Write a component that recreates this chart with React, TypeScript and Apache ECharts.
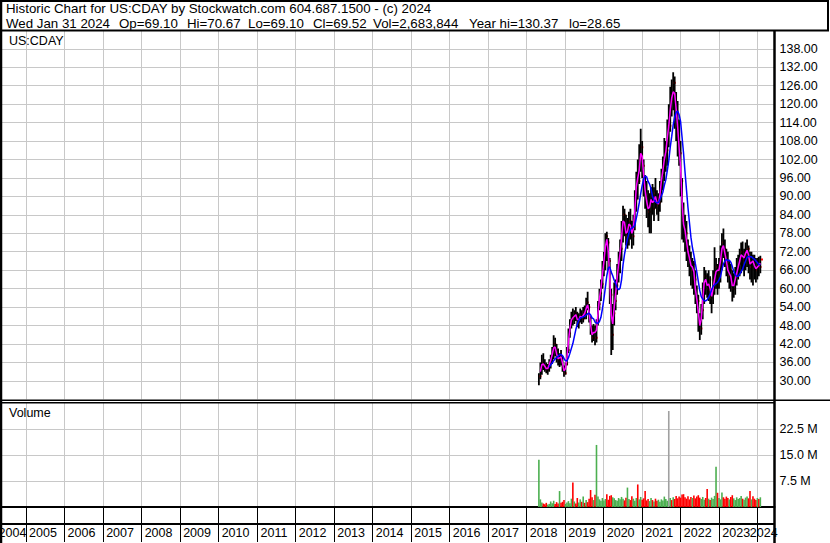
import React, { useEffect, useRef } from 'react';
import * as echarts from 'echarts';

// ---------- data ----------
const TITLE = 'Historic Chart for US:CDAY by Stockwatch.com 604.687.1500 - (c) 2024';
const QUOTE_FIELDS = ['Wed Jan 31 2024', 'Op=69.10', 'Hi=70.67', 'Lo=69.10', 'Cl=69.52', 'Vol=2,683,844', 'Year hi=130.37', 'lo=28.65'];
const SYMBOL = 'US:CDAY';
const VOLUME_LABEL = 'Volume';

const START_DATE = '2018-04-27';
const STEP_DAYS = 14; // one bar every two weeks

const lows = [
  28.6, 30.5, 32, 33.5, 33, 32.5, 32, 33, 34, 35.5, 37, 38, 36, 35, 34.5, 35, 33, 31.3, 32, 35,
  39, 44, 47, 48, 48.5, 49.5, 47.5, 47, 49, 48.5, 49, 50, 50, 53, 49, 45, 42.5, 43, 41.6, 42.5,
  48, 53, 56, 60, 64, 66, 69, 66, 55, 38.4, 40, 48, 53, 58, 62, 65, 69, 75, 77, 74,
  73, 74, 76, 73, 74, 79, 85, 89, 94, 98, 96, 90, 86, 83, 80, 78, 78, 84, 82, 86,
  84, 82, 85, 88, 92, 95, 98, 100, 106, 111, 116, 118, 112, 108, 103, 100, 90, 76, 75, 72,
  69, 67, 64, 61, 60, 58, 55, 52, 46, 43.3, 45, 50, 55, 58, 57, 56, 55, 52, 55, 58,
  60, 58, 60, 62, 66, 70, 67, 64, 62, 60, 59, 55.8, 57, 58, 61, 63, 64, 65, 66, 64,
  66, 67, 65, 63, 62, 61, 63, 62, 63, 64, 65,
];
const highs = [
  32.5, 36, 38.5, 39, 37, 36, 35.5, 37, 38.5, 41, 44.8, 44, 42, 40.5, 39, 40, 38, 35, 36, 41,
  47, 50, 52.5, 53.5, 53, 54, 52.5, 52, 53.5, 53, 54, 54.5, 57, 59, 55, 51, 48, 48.5, 48, 50,
  56, 60, 63, 69, 72, 78, 78.5, 76.5, 70, 60, 55, 62, 63, 68, 72, 76, 82, 87, 86, 84,
  83, 85, 86, 82, 84, 92, 98, 102, 107, 112, 108, 102, 97, 95, 92, 91, 93, 94, 93, 96,
  92, 91, 95, 99, 103, 109, 108, 115, 120, 125.7, 128, 130.4, 129, 124, 121, 115, 108, 96, 88, 84,
  82, 76, 74, 72, 70, 69, 66, 61, 58, 52, 55, 62, 67, 66, 65, 66, 64, 60, 66, 73.5,
  70, 68, 70, 74, 78, 79.6, 76, 73, 72, 69, 68, 66, 65, 67, 70, 71, 73, 75, 75.3, 73,
  75, 76, 74, 72, 72, 71, 71, 70, 70, 70.4, 70.7,
];
const closes = [
  31.5, 34.5, 36, 35, 34.5, 33.5, 34.5, 36, 37.5, 39.5, 42, 40, 37.5, 37, 38, 37.5, 34, 32.5, 35.5, 40,
  45.5, 48.5, 51, 50, 52, 51, 49, 50.5, 51.5, 50, 52.5, 51.5, 55.5, 54, 50.5, 46, 44, 47.5, 44, 49,
  55, 58.5, 61.5, 67.5, 70, 77, 75, 69, 58, 45, 52, 56, 61, 66, 70, 73, 80, 84, 79, 77,
  80, 82, 79, 77, 82, 89, 97, 95, 102, 106, 100, 94, 90, 87, 85, 88, 90, 86, 91, 89,
  87, 88, 93, 97, 100, 104, 105, 113, 113, 123, 121, 127, 120, 117, 108, 104, 95, 82, 80, 78,
  73, 71, 69, 66, 68, 63, 57, 56, 49, 47, 53, 60, 64, 62, 60, 63, 57, 58, 62, 64,
  67, 65, 67, 71, 75, 73, 70, 68, 64, 66, 62, 60, 62, 64, 66, 68, 70, 72, 69, 71,
  72, 73, 69, 67, 70, 68, 67, 66, 68, 67, 69.5,
];
// volume in millions of shares
const volumes = [
  13.6, 2.2, 1.3, 1.0, 0.8, 1.2, 0.7, 0.9, 1.6, 1.1, 1.8, 0.9, 1.4, 1.0, 4.6, 1.2, 1.5, 2.0, 0.9, 1.3,
  1.7, 1.1, 2.4, 7.1, 1.6, 1.0, 2.6, 1.3, 2.2, 1.5, 3.0, 1.2, 2.0, 1.4, 2.4, 4.9, 2.8, 2.0, 3.5, 17.9,
  3.0, 2.2, 1.8, 2.6, 1.9, 2.3, 3.7, 2.1, 3.2, 3.4, 2.8, 2.5, 2.0, 1.8, 2.6, 2.2, 2.9, 2.4, 1.9, 2.7,
  5.6, 2.3, 2.0, 3.1, 2.4, 1.8, 2.6, 6.5, 2.2, 2.9, 2.1, 2.5, 4.6, 1.9, 2.3, 1.7, 2.6, 2.0, 1.6, 2.4,
  1.8, 2.1, 1.5, 2.2, 1.9, 3.0, 2.3, 1.8, 27.7, 2.6, 2.0, 2.8, 2.3, 3.2, 2.5, 3.0, 2.7, 3.6, 3.7, 2.8,
  2.4, 3.1, 2.2, 2.9, 2.6, 3.3, 2.5, 3.0, 3.4, 2.7, 2.3, 2.9, 2.1, 2.6, 5.2, 2.4, 2.0, 2.7, 2.3, 3.2,
  11.6, 4.1, 2.6, 2.2, 4.2, 2.8, 2.4, 3.0, 2.6, 2.2, 2.9, 3.4, 2.5, 2.0, 2.8, 2.3, 2.6, 3.2, 2.4, 2.1,
  2.7, 3.0, 2.5, 4.6, 2.2, 3.1, 2.4, 2.0, 2.6, 2.3, 2.8,
];

const SHORT_MA = 2; // periods (about ten trading days)
const LONG_MA = 8; // periods

const X_MIN = 2004;
const X_MAX = 2024.436;
const PRICE_MIN = 24;
const PRICE_MAX = 144;
const PRICE_STEP = 6;
const VOL_MIN = 0;
const VOL_MAX = 30;
const VOL_STEP = 7.5;

// ---------- helpers ----------
function decimalYear(date: Date): number {
  const y = date.getUTCFullYear();
  const a = Date.UTC(y, 0, 1);
  const b = Date.UTC(y + 1, 0, 1);
  return y + (date.getTime() - a) / (b - a);
}

function periodYear(i: number): number {
  const d = new Date(START_DATE + 'T00:00:00Z');
  d.setUTCDate(d.getUTCDate() + i * STEP_DAYS);
  return decimalYear(d);
}

function movingAverage(values: number[], n: number): (number | null)[] {
  return values.map((_, i) => {
    if (i < n - 1) return null;
    let s = 0;
    for (let k = i - n + 1; k <= i; k++) s += values[k];
    return s / n;
  });
}

const FONT = '"Liberation Sans", Arial, Helvetica, sans-serif';
const FS = 12.5;
const HEADER_FS = 13.3;
const GRID_GREY = '#c8c8c8';

function buildOption() {
  const xs = closes.map((_, i) => periodYear(i));
  const bars = closes.map((c, i) => [xs[i], lows[i], highs[i], c]);
  const maShort = movingAverage(closes, SHORT_MA);
  const maLong = movingAverage(closes, LONG_MA);
  const volData = volumes.map((v, i) => {
    const prev = i === 0 ? -Infinity : closes[i - 1];
    const color = closes[i] > prev ? '#4caf50' : closes[i] < prev ? '#ff0000' : '#a0a0a0';
    return { value: [xs[i], v], itemStyle: { color } };
  });

  const gridLeft = -12.5;
  const gridWidth = 787;

  const lineEl = (x1: number, y1: number, x2: number, y2: number, w: number) => ({
    type: 'line',
    z: 100,
    silent: true,
    shape: { x1, y1, x2, y2 },
    style: { stroke: '#000', lineWidth: w },
  });
  const textEl = (x: number, y: number, text: string, size: number = FS) => ({
    type: 'text',
    z: 100,
    silent: true,
    x,
    y,
    style: { text, fill: '#000', fontSize: size, fontFamily: FONT, verticalAlign: 'middle', align: 'left' },
  });

  const fieldX = [6, 119, 187, 248, 313, 373, 469, 569];

  const yearLabel = (v: number) => {
    if (Math.abs(v - Math.round(v)) > 1e-6) return '';
    const y = Math.round(v);
    if (y === 2004) return `{first|${y}}`;
    if (y === 2024) return `{last|${y}}`;
    return `{yr|${y}}`;
  };
  const richBase = { fontSize: FS, fontFamily: FONT, color: '#000' };

  return {
    animation: false,
    backgroundColor: '#ffffff',
    grid: [
      { left: gridLeft, width: gridWidth, top: 30.4, height: 368.9, outerBoundsMode: 'none', containLabel: false },
      { left: gridLeft, width: gridWidth, top: 403, height: 104, outerBoundsMode: 'none', containLabel: false },
    ],
    xAxis: [
      {
        type: 'value',
        gridIndex: 0,
        min: X_MIN,
        max: X_MAX,
        interval: 1,
        axisLine: { show: false },
        axisTick: { show: false },
        axisLabel: { show: false },
        splitLine: { show: true, lineStyle: { color: GRID_GREY, width: 1 } },
      },
      {
        type: 'value',
        gridIndex: 1,
        min: X_MIN,
        max: X_MAX,
        interval: 1,
        offset: 2,
        axisLine: { show: true, lineStyle: { color: '#000', width: 2 } },
        axisTick: { show: true, inside: false, length: 35, lineStyle: { color: '#000', width: 1 } },
        axisLabel: {
          show: true,
          margin: 17,
          align: 'center',
          showMinLabel: true,
          showMaxLabel: false,
          formatter: yearLabel,
          rich: {
            yr: { ...richBase, padding: [0, 0, 0, 34] },
            first: { ...richBase, padding: [0, 0, 0, 50] },
            last: { ...richBase, padding: [0, 0, 0, 12] },
          },
        },
        splitLine: { show: true, lineStyle: { color: GRID_GREY, width: 1 } },
      },
    ],
    yAxis: [
      {
        type: 'value',
        gridIndex: 0,
        position: 'right',
        min: PRICE_MIN,
        max: PRICE_MAX,
        interval: PRICE_STEP,
        axisLine: { show: false },
        axisTick: { show: false },
        axisLabel: {
          show: true,
          margin: 5,
          align: 'left',
          showMinLabel: false,
          showMaxLabel: false,
          color: '#000',
          fontSize: FS,
          fontFamily: FONT,
          formatter: (v: number) => v.toFixed(2),
        },
        splitLine: { show: true, showMinLine: false, showMaxLine: false, lineStyle: { color: GRID_GREY, width: 1 } },
      },
      {
        type: 'value',
        gridIndex: 1,
        position: 'right',
        min: VOL_MIN,
        max: VOL_MAX,
        interval: VOL_STEP,
        axisLine: { show: false },
        axisTick: { show: false },
        axisLabel: {
          show: true,
          margin: 5,
          align: 'left',
          showMinLabel: false,
          showMaxLabel: false,
          color: '#000',
          fontSize: FS,
          fontFamily: FONT,
          formatter: (v: number) => v.toFixed(1) + ' M',
        },
        splitLine: { show: true, showMinLine: false, showMaxLine: false, lineStyle: { color: GRID_GREY, width: 1 } },
      },
    ],
    series: [
      {
        type: 'custom',
        name: 'Price',
        xAxisIndex: 0,
        yAxisIndex: 0,
        clip: true,
        encode: { x: 0, y: [1, 2, 3] },
        data: bars,
        renderItem: (_params: any, api: any) => {
          const x = api.value(0);
          const pLo = api.coord([x, api.value(1)]);
          const pHi = api.coord([x, api.value(2)]);
          const pCl = api.coord([x, api.value(3)]);
          return {
            type: 'group',
            children: [
              {
                type: 'line',
                shape: { x1: pLo[0], y1: pLo[1], x2: pHi[0], y2: pHi[1] },
                style: { stroke: '#000', lineWidth: 1.8 },
              },
              {
                type: 'rect',
                shape: { x: pCl[0] + 0.6, y: pCl[1] - 1, width: 2, height: 2 },
                style: { fill: '#ff0000' },
              },
            ],
          };
        },
      },
      {
        type: 'line',
        name: 'MA short',
        xAxisIndex: 0,
        yAxisIndex: 0,
        data: xs.map((x, i) => [x, maShort[i]]),
        showSymbol: false,
        connectNulls: false,
        lineStyle: { color: '#ff00ff', width: 1.5 },
        itemStyle: { color: '#ff00ff' },
        z: 3,
      },
      {
        type: 'line',
        name: 'MA long',
        xAxisIndex: 0,
        yAxisIndex: 0,
        data: xs.map((x, i) => [x, maLong[i]]),
        showSymbol: false,
        connectNulls: false,
        lineStyle: { color: '#0000ff', width: 1.5 },
        itemStyle: { color: '#0000ff' },
        z: 4,
      },
      {
        type: 'bar',
        name: 'Volume',
        xAxisIndex: 1,
        yAxisIndex: 1,
        barWidth: 1.6,
        data: volData,
      },
    ],
    graphic: [
      // header box
      lineEl(0, 1, 829, 1, 2),
      lineEl(0, 30.5, 829, 30.5, 2),
      lineEl(828, 0, 828, 31, 2),
      // left border
      lineEl(1, 0, 1, 543, 2.5),
      // price axis line
      lineEl(774.5, 30, 774.5, 543, 2.5),
      // double separator between panels
      lineEl(0, 400.25, 830, 400.25, 1.5),
      lineEl(0, 402.75, 774, 402.75, 1.5),
      // line above the year labels
      lineEl(0, 524, 774, 524, 2),
      // texts
      textEl(6, 8.5, TITLE, HEADER_FS),
      ...QUOTE_FIELDS.map((t, i) => textEl(fieldX[i], 23, t, HEADER_FS)),
      textEl(9, 41, SYMBOL),
      textEl(9, 413, VOLUME_LABEL),
    ],
  };
}

export default function App() {
  const ref = useRef<HTMLDivElement>(null);
  useEffect(() => {
    if (!ref.current) return;
    const chart = echarts.init(ref.current, null, { renderer: 'svg' });
    chart.setOption(buildOption() as any);
    return () => chart.dispose();
  }, []);
  return (
    <div
      ref={ref}
      style={{ position: 'fixed', left: 0, top: 0, width: 830, height: 543, background: '#fff' }}
    />
  );
}
